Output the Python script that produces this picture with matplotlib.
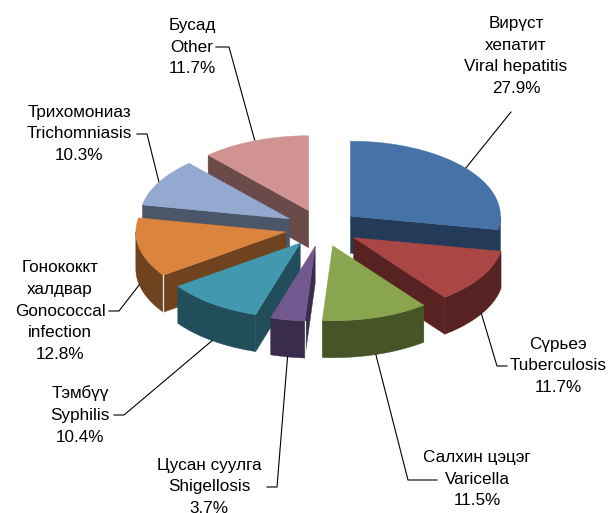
import numpy as np
import matplotlib
matplotlib.use('Agg')
import matplotlib.pyplot as plt

plt.rcParams['font.family'] = ['Liberation Sans', 'DejaVu Sans']

names_mn = ['Вирүст\nхепатит', 'Сүрьеэ', 'Салхин цэцэг', 'Цусан суулга', 'Тэмбүү', 'Гонококкт\nхалдвар', 'Трихомониаз', 'Бусад']
names_en = ['Viral hepatitis', 'Tuberculosis', 'Varicella', 'Shigellosis', 'Syphilis', 'Gonococcal\ninfection', 'Trichomniasis', 'Other']
values = [27.9, 11.7, 11.5, 3.7, 10.4, 12.8, 10.3, 11.7]

top_colors = ['#4573A7', '#AA4643', '#89A54E', '#71588F', '#4198AF', '#DB843D', '#93A9CF', '#D19392']
side_colors = ['#243A59', '#582222', '#475427', '#3A2C4B', '#224D5B', '#6F4320', '#4B5668', '#6B4A4A']

# 饼图几何参数（像素）
CX, CY = 322, 228
RX, RY = 150, 75
EXPLODE = 37
DEPTH = 37

# 标签中心位置、引线折点、引线末端
label_pos = [(516, 56), (558, 366), (477, 479), (209, 487), (80, 415), (60, 311), (79, 134), (192, 47)]
elbows = [(511, 112), (497, 366), (408, 480), (277, 487), (124, 415), (119, 311), (147, 134), (229, 47)]
line_ends = [(511, 112), (507, 366), (437, 480), (267, 487), (114, 415), (109, 311), (137, 134), (216, 47)]

# 前角有浅色高光的扇形（紫、橙）
highlighted = [3, 5]


def ellipse_point(center, angle):
    return center[0] + RX * np.sin(angle), center[1] - RY * np.cos(angle)


def draw_wedge(ax, start, end, top_color, side_color, highlight=False):
    """
    画一个带厚度的扇形，角度从12点方向顺时针计算。
    """
    mid = (start + end) / 2
    apex = (CX + EXPLODE * np.sin(mid), CY - EXPLODE * 0.5 * np.cos(mid))
    xs, ys = ellipse_point(apex, np.linspace(start, end, 60))

    # 径向切面
    for a, visible in [(start, np.sin(start) < -1e-6), (end, np.sin(end) > 1e-6)]:
        if visible:
            px, py = ellipse_point(apex, a)
            ax.fill([apex[0], px, px, apex[0]], [apex[1], py, py + DEPTH, apex[1] + DEPTH],
                    color=side_color, lw=0.3, zorder=2)

    # 外侧弧面（只有朝向观察者的部分可见）
    lo, hi = max(start, np.pi / 2), min(end, 3 * np.pi / 2)
    if hi > lo:
        arc_x, arc_y = ellipse_point(apex, np.linspace(lo, hi, 60))
        ax.fill(np.r_[arc_x, arc_x[::-1]], np.r_[arc_y, arc_y[::-1] + DEPTH],
                color=side_color, lw=0.3, zorder=2)

    ax.fill(np.r_[apex[0], xs], np.r_[apex[1], ys], color=top_color, lw=0.3, zorder=2)

    if highlight:
        px, py = ellipse_point(apex, start)
        ax.plot([px, px], [py, py + DEPTH], color='#E8E8E8', lw=0.9, zorder=2)

    return apex, mid


fig = plt.figure(figsize=(6.09, 5.13), dpi=100)
ax = fig.add_axes([0, 0, 1, 1])
ax.set_xlim(0, 609)
ax.set_ylim(513, 0)
ax.axis('off')

edges = np.r_[0, np.cumsum(values)] / sum(values) * 2 * np.pi
mids = (edges[:-1] + edges[1:]) / 2

# 由后往前画
order = np.argsort(-np.cos(mids))

for i in order:
    apex, mid = draw_wedge(ax, edges[i], edges[i + 1], top_colors[i], side_colors[i], i in highlighted)

    # 引线从扇形外缘中点出发
    sx, sy = ellipse_point(apex, mid)
    if np.cos(mid) < 0:
        sy += DEPTH
    ax.plot([sx, elbows[i][0], line_ends[i][0]], [sy, elbows[i][1], line_ends[i][1]],
            color='black', lw=0.8, zorder=1 if np.cos(mid) > 0 else 3)

    label = f"{names_mn[i]}\n{names_en[i]}\n{values[i]}%"
    ax.text(label_pos[i][0], label_pos[i][1], label, ha='center', va='center', fontsize=12.3,
            linespacing=1.58, color='black')

fig.savefig('out.png', dpi=100)
